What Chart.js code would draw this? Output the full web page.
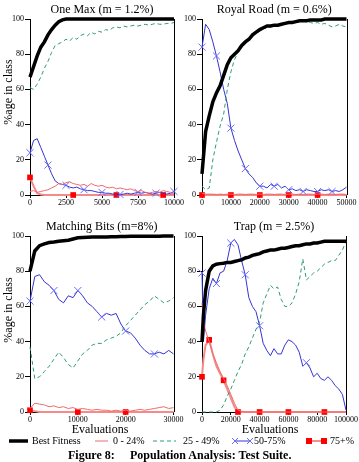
<!DOCTYPE html>
<html><head><meta charset="utf-8">
<script src="https://cdn.jsdelivr.net/npm/chart.js@4"></script>
<style>
html,body{margin:0;padding:0;background:#fff;}
body{width:359px;height:462px;position:relative;overflow:hidden;font-family:"Liberation Serif","Times New Roman",serif;color:#000;}
canvas{position:absolute;}
.t{position:absolute;white-space:nowrap;line-height:1;}
.yl{position:absolute;width:100px;height:14px;line-height:14px;font-size:12px;text-align:center;transform:rotate(-90deg);white-space:nowrap;}
.ev{position:absolute;width:100px;text-align:center;font-size:12px;line-height:14px;}
.lg{position:absolute;font-size:10px;line-height:12px;white-space:nowrap;}
svg{position:absolute;}
</style></head><body>
<canvas id="c1" width="200" height="215" style="left:0;top:0"></canvas>
<canvas id="c2" width="184" height="215" style="left:175px;top:0"></canvas>
<canvas id="c3" width="200" height="215" style="left:0;top:217px"></canvas>
<canvas id="c4" width="184" height="215" style="left:175px;top:217px"></canvas>

<div class="yl" style="left:-42px;top:85px">%age in class</div>
<div class="yl" style="left:-42px;top:303px">%age in class</div>
<div class="ev" style="left:50px;top:422px">Evaluations</div>
<div class="ev" style="left:220px;top:422px">Evaluations</div>

<svg width="20" height="8" style="left:9px;top:437px"><line x1="0" y1="4" x2="19" y2="4" stroke="#000" stroke-width="3.5"/></svg>
<div class="lg" style="left:32px;top:435px">Best Fitness</div>
<svg width="14" height="8" style="left:95px;top:437px"><line x1="0" y1="4" x2="13" y2="4" stroke="#f06a6a" stroke-width="1"/></svg>
<div class="lg" style="left:113px;top:435px">0 - 24%</div>
<svg width="24" height="8" style="left:153px;top:437px"><line x1="0" y1="4" x2="23" y2="4" stroke="#2e9c70" stroke-width="1" stroke-dasharray="4,3"/></svg>
<div class="lg" style="left:183px;top:435px">25 - 49%</div>
<svg width="22" height="10" style="left:232px;top:436px"><line x1="3" y1="5" x2="19" y2="5" stroke="#3434d4" stroke-width="1"/><path d="M0,2 L6,8 M0,8 L6,2 M15,2 L21,8 M15,8 L21,2" stroke="#6a6aff" stroke-width="1"/></svg>
<div class="lg" style="left:254px;top:435px">50-75%</div>
<svg width="22" height="10" style="left:306px;top:436px"><line x1="3" y1="5" x2="19" y2="5" stroke="#f06a6a" stroke-width="1.5"/><rect x="0" y="2" width="6" height="6" fill="#ff0000"/><rect x="15" y="2" width="6" height="6" fill="#ff0000"/></svg>
<div class="lg" style="left:330px;top:435px">75+%</div>

<div class="t" style="left:68px;top:449px;font-size:12px;font-weight:bold">Figure 8:</div>
<div class="t" style="left:130px;top:449px;font-size:12px;font-weight:bold">Population Analysis: Test Suite.</div>

<script>
// ---------------- DATA ----------------
// One Max (m = 1.2%)
const omEvals = [0,250,500,750,1000,1250,1500,1750,2000,2250,2500,2750,3000,3250,3500,3750,4000,4250,4500,4750,5000,5250,5500,5750,6000,6250,6500,6750,7000,7250,7500,7750,8000,8250,8500,8750,9000,9250,9500,9750,10000];
const omBest = [67,73,79,84,87,91,94,96.5,98.5,99.5,100,100,100,100,100,100,100,100,100,100,100,100,100,100,100,100,100,100,100,100,100,100,100,100,100,100,100,100,100,100,100];
const omLow  = [2,2.5,1.5,2,2.5,3,4,5,6.5,6,7,7.5,6.5,6,5.5,6,5,6.5,5.5,5,5.5,4.5,4,4.5,3.5,4,3.5,3,3.5,2.5,2,2.5,1.5,1,1.5,2,1.5,2.5,2,1.5,0.5];
const omMid  = [61,60,63,67,72,76,81,85,86,87,88.5,87.5,89.5,88.5,90.5,91.5,90.5,92.5,91.5,93,92.5,94,93.5,95,95.5,95,96,95.5,96,96.5,96,96.5,97,96.5,97,97.5,97,97,97.5,97.5,98];
const omHigh = [24,31,32,27,22,17,12,8,6.5,6,5.5,4.5,4,4.5,3.5,3,2.5,2.5,2,1.5,1.5,1,1,0.5,0.5,0.3,0.5,1,0.5,1,1.5,1,1.5,1,0.5,1,1.5,1,0.5,1,2];
const omTop  = [10,5,1,0.3,0,0,0,0,0,0,0,0,0,0,0,0,0,0,0,0,0,0,0,0,0,0,0,0,0,0,0,0,0,0,0,0,0,0,0,0,0];

// Royal Road (m = 0.6%)
const rrEvals = [0,1250,2500,3750,5000,6250,7500,8750,10000,11250,12500,13750,15000,16250,17500,18750,20000,21250,22500,23750,25000,26250,27500,28750,30000,31250,32500,33750,35000,36250,37500,38750,40000,41250,42500,43750,45000,46250,47500,48750,50000];
const rrBest = [12,36,45,53,58,62,68,74,78,80,82,85,87,88.5,91,92.5,94,95,96,96,96.5,96.5,97,97.5,98,98,98.5,99,99,99,99.5,99.5,99.5,99.5,100,100,100,100,100,100,100];
const rrLow  = [1,0.5,0.5,0.5,0.3,0.5,0.3,0.5,0.5,0.3,0.5,0.5,0.3,0.5,0.5,0.3,0.5,0.3,0.5,0.5,0.3,0.5,0.5,0.3,0.5,0.5,0.3,0.5,0.3,0.5,0.5,0.3,0.5,0.5,0.3,0.5,0.5,0.3,0.5,0.5,0.3];
const rrMid  = [5,3,4,20,30,39,46,60,70,77,81,84,86,88,90,92,93,94.5,95,95.5,96.5,96,97,97,98,97.5,98.5,98.5,99,98.5,98,97.5,98,97,97.5,96.5,95.5,96,97,96,95.5];
const rrHigh = [84,97,94,87,79,70,60,52,38,31,25,20,15,12,10,7,5,5,4,6,5,6,4,5,3,3.5,2.5,3,2,3,2.5,2,2,3,2.5,3,2,2.5,2,3,4.5];
const rrTop  = [0,0,0,0,0,0,0,0,0,0,0,0,0,0,0,0,0,0,0,0,0,0,0,0,0,0,0,0,0,0,0,0,0,0,0,0,0,0,0,0,0];

// Matching Bits (m=8%)
const mbEvals = [0,1000,2000,3000,4000,5000,6000,7000,8000,9000,10000,11000,12000,13000,14000,15000,16000,17000,18000,19000,20000,21000,22000,23000,24000,25000,26000,27000,28000,29000,30000];
const mbBest = [80,91.5,94.5,95.5,96.3,96.6,97,97.3,97.6,98.3,99,99.2,99.3,99.4,99.4,99.5,99.5,99.6,99.6,99.7,99.7,99.8,99.8,99.8,99.9,99.9,99.9,99.9,100,100,100];
const mbLow  = [2,5,4.5,4,3,3.5,2.5,3,2,2.5,1.5,2,1.5,1,1.5,1,1,0.5,1,0.5,1,0.5,1,1.5,1,1.5,2,2.5,3,2,2.5];
const mbMid  = [37,19,20,23,26,30,34,31,27,25,29,33,35,38,39,39,41,42,43,45,49,52,55,58,61,63,66,64,62,63,65];
const mbHigh = [63,77,78,74,72,69,64,62,66,65,69,66,62,60,57,54,56,55,56,50,46,45,42,38,35,33,33,34,33,35,33];
const mbTop  = [1,0.5,0,0,0,0,0,0,0,0,0,0,0,0,0,0,0,0,0,0,0,0,0,0,0,0,0,0,0,0,0];

// Trap (m = 2.5%)
const trEvals = [0,1000,2500,5000,7500,10000,12500,15000,17500,20000,22500,25000,27500,30000,32500,35000,37500,40000,42500,45000,47500,50000,52500,55000,57500,60000,62500,65000,67500,70000,72500,75000,77500,80000,82500,85000,87500,90000,92500,95000,97500,100000];
const trBest = [40,55,69,80,83,84,84.3,84.5,85,85,85.5,86,86.5,87.5,88,89,89.5,90,91,91.5,92,92,92.5,93,93,93.5,94,94.5,94.5,95,95.5,95.5,96,96,96.5,97,97,97,97,97,97,97];
const trLow  = [62,52,46,40,33,28,23,19,15,10,5,1,0.5,0,0,0,0,0,0,0,0,0,0,0,0,0,0,0,0,0,0,0,0,0,0,0,0,0,0,0,0,0];
const trMid  = [0,0,0,0,0,0,1,4,9,13,18,23,27,33,37,42,47,51,62,67,72,70,71,64,60,60,62,67,74,87,75,77,79,80,82,84,85,86,86,89,92,97];
const trHigh = [79,40,55,70,76,73,79,80,86,96,98,95,86,78,65,60,57,49,39,35,32,36,33,33,38,41,40,38,34,26,28,25,20,22,19,18,20,18,15,13,10,1];
const trTop  = [20,30,38,41,33,26,22,18,13,8,3,0,0,0,0,0,0,0,0,0,0,0,0,0,0,0,0,0,0,0,0,0,0,0,0,0,0,0,0,0,0,0];

const yTicks = [0,20,40,60,80,100];

// ---------------- CHARTS ----------------
const rightBorder = {
  id: 'rightBorder',
  beforeDatasetsDraw(chart) {
    const {ctx, chartArea: a} = chart;
    ctx.save();
    ctx.strokeStyle = '#000'; ctx.lineWidth = 1;
    ctx.beginPath();
    ctx.moveTo(Math.round(a.right) + 0.5, a.top);
    ctx.lineTo(Math.round(a.right) + 0.5, a.bottom);
    ctx.stroke();
    ctx.restore();
  }
};

function pts(xs, ys) { return xs.map((x, i) => ({x: x, y: ys[i]})); }

function makeChart(id, title, xs, s, xMax, xStep, yW, padR, blueMarks, redMarks) {
  const tickFont = {family: '"Liberation Serif", serif', size: 8};
  new Chart(document.getElementById(id), {
    type: 'line',
    data: {
      datasets: [
        {label: 'Best Fitness', data: pts(xs, s[0]), borderColor: '#000', borderWidth: 3.5, pointRadius: 0, clip: false},
        {label: '0 - 24%', data: pts(xs, s[1]), borderColor: '#f06a6a', borderWidth: 1, pointRadius: 0, clip: false},
        {label: '25 - 49%', data: pts(xs, s[2]), borderColor: '#2e9c70', borderWidth: 1, borderDash: [4, 3], pointRadius: 0, clip: false},
        {label: '50-75%', data: pts(xs, s[3]), borderColor: '#3434d4', borderWidth: 1, pointStyle: 'crossRot',
          pointRadius: ctx => blueMarks.includes(ctx.dataIndex) ? 5 : 0, pointBorderColor: '#6a6aff', pointBorderWidth: 1, clip: false},
        {label: '75+%', data: pts(xs, s[4]), borderColor: '#f58a8a', borderWidth: 2, pointStyle: 'rect',
          pointRadius: ctx => redMarks.includes(ctx.dataIndex) ? 4 : 0, pointBackgroundColor: '#ff0000', pointBorderColor: '#ff0000', pointBorderWidth: 0, clip: false}
      ]
    },
    options: {
      responsive: false, animation: false, devicePixelRatio: 1,
      layout: {padding: {left: 0, right: padR, top: 0, bottom: 0}},
      elements: {line: {tension: 0}, point: {hoverRadius: 0}},
      plugins: {
        legend: {display: false}, tooltip: {enabled: false},
        title: {display: true, text: title, fullSize: false, color: '#000',
          font: {family: '"Liberation Serif", serif', size: 12, weight: 'normal', lineHeight: 1.2},
          padding: {top: 2.5, bottom: 2.1}}
      },
      scales: {
        x: {type: 'linear', min: 0, max: xMax,
          ticks: {stepSize: xStep, color: '#000', font: tickFont, padding: 0, maxRotation: 0, autoSkip: false,
            callback: v => String(v)},
          grid: {drawOnChartArea: false, drawTicks: true, tickLength: 3, color: '#000'},
          border: {color: '#000', width: 1},
          afterFit: sc => { sc.height = 20; sc.paddingLeft = 0; sc.paddingRight = 0; }
        },
        y: {min: 0, max: 100,
          afterBuildTicks: sc => { sc.ticks = yTicks.map(v => ({value: v})); },
          ticks: {color: '#000', font: tickFont, padding: 1, callback: v => String(v)},
          grid: {drawOnChartArea: false, drawTicks: true, tickLength: 5, color: '#000'},
          border: {color: '#000', width: 1},
          afterFit: sc => { sc.width = yW; sc.paddingTop = 0; sc.paddingBottom = 0; }
        }
      }
    },
    plugins: [rightBorder]
  });
}

makeChart('c1', 'One Max (m = 1.2%)', omEvals, [omBest, omLow, omMid, omHigh, omTop], 10000, 2500, 30, 26,
  [0,5,10,15,20,25,30,35,40], [0,12,24,37]);
makeChart('c2', 'Royal Road (m = 0.6%)', rrEvals, [rrBest, rrLow, rrMid, rrHigh, rrTop], 50000, 10000, 27, 12.5,
  [0,4,8,12,16,20,24,28,32,36], [0,8,16,24,32]);
makeChart('c3', 'Matching Bits (m=8%)', mbEvals, [mbBest, mbLow, mbMid, mbHigh, mbTop], 30000, 10000, 30, 26.5,
  [0,5,10,15,20,26], [0,10,20]);
makeChart('c4', 'Trap (m = 2.5%)', trEvals, [trBest, trLow, trMid, trHigh, trTop], 100000, 20000, 27, 13,
  [0,5,9,13,17,30], [0,3,7,11,17,25,35]);
</script>
</body></html>
